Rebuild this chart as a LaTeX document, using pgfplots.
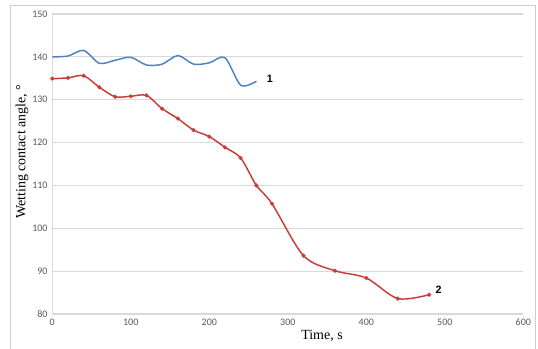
\documentclass[border=0pt]{standalone}
\usepackage{pgfplots}
\pgfplotsset{compat=1.18}
\usepackage{fontspec}
\setmainfont{Liberation Serif}
\newfontfamily\tickfont{Carlito}
\newfontfamily\arial{Liberation Sans}
\definecolor{xlblue}{RGB}{79,129,189}
\definecolor{xlred}{RGB}{200,60,58}
\definecolor{gridc}{RGB}{217,217,217}
\definecolor{tickc}{RGB}{89,89,89}
\begin{document}
\begin{tikzpicture}
\useasboundingbox (0pt,0pt) rectangle (403.5pt,261.75pt);
\draw[gray!40, line width=0.6pt] (7.5pt,0pt) -- (7.5pt,258pt) -- (401.25pt,258pt) -- (401.25pt,0pt);
\begin{axis}[
  at={(39.2pt,26.25pt)}, anchor=south west,
  scale only axis, width=353.3pt, height=225pt,
  xmin=0, xmax=600, ymin=80, ymax=150,
  xtick={0,100,...,600}, ytick={80,90,...,150},
  axis x line=bottom, axis y line=left,
  axis line style={gridc, line width=0.8pt, -},
  ymajorgrids, major grid style={gridc, line width=0.8pt},
  major tick length=0pt,
  tick label style={font=\tickfont\fontsize{7.5}{9}\selectfont, text=tickc},
  /pgf/number format/assume math mode=true,
  clip=false,
]
\addplot[xlblue, line width=1.1pt, smooth, tension=0.5, no markers] coordinates {
(0,140.0) (20,140.2) (40,141.5) (60,138.5) (80,139.2) (100,139.9) (120,138.1)
(140,138.3) (160,140.3) (180,138.3) (200,138.6) (220,139.8) (240,133.4) (260,134.3)
};
\addplot[xlred, line width=1.1pt, smooth, tension=0.5, mark=*, mark size=0.9pt] coordinates {
(0,134.9) (20,135.1) (40,135.6) (60,132.9) (80,130.7) (100,130.8) (120,131.0)
(140,127.9) (160,125.6) (180,122.9) (200,121.4) (220,118.9) (240,116.4) (260,110.0)
(280,105.7) (320,93.6) (360,90.1) (400,88.4) (440,83.6) (480,84.5)
};
\node[font=\arial\bfseries\fontsize{8}{9}\selectfont] at (axis cs:277,134.8) {1};
\node[font=\arial\bfseries\fontsize{8}{9}\selectfont] at (axis cs:492,85.6) {2};
\end{axis}
\node[font=\fontsize{10.5}{12}\selectfont, rotate=90] at (16.5pt,148pt) {Wetting contact angle, °};
\node[font=\fontsize{10.5}{12}\selectfont] at (241.5pt,9.5pt) {Time, s};
\end{tikzpicture}
\end{document}
